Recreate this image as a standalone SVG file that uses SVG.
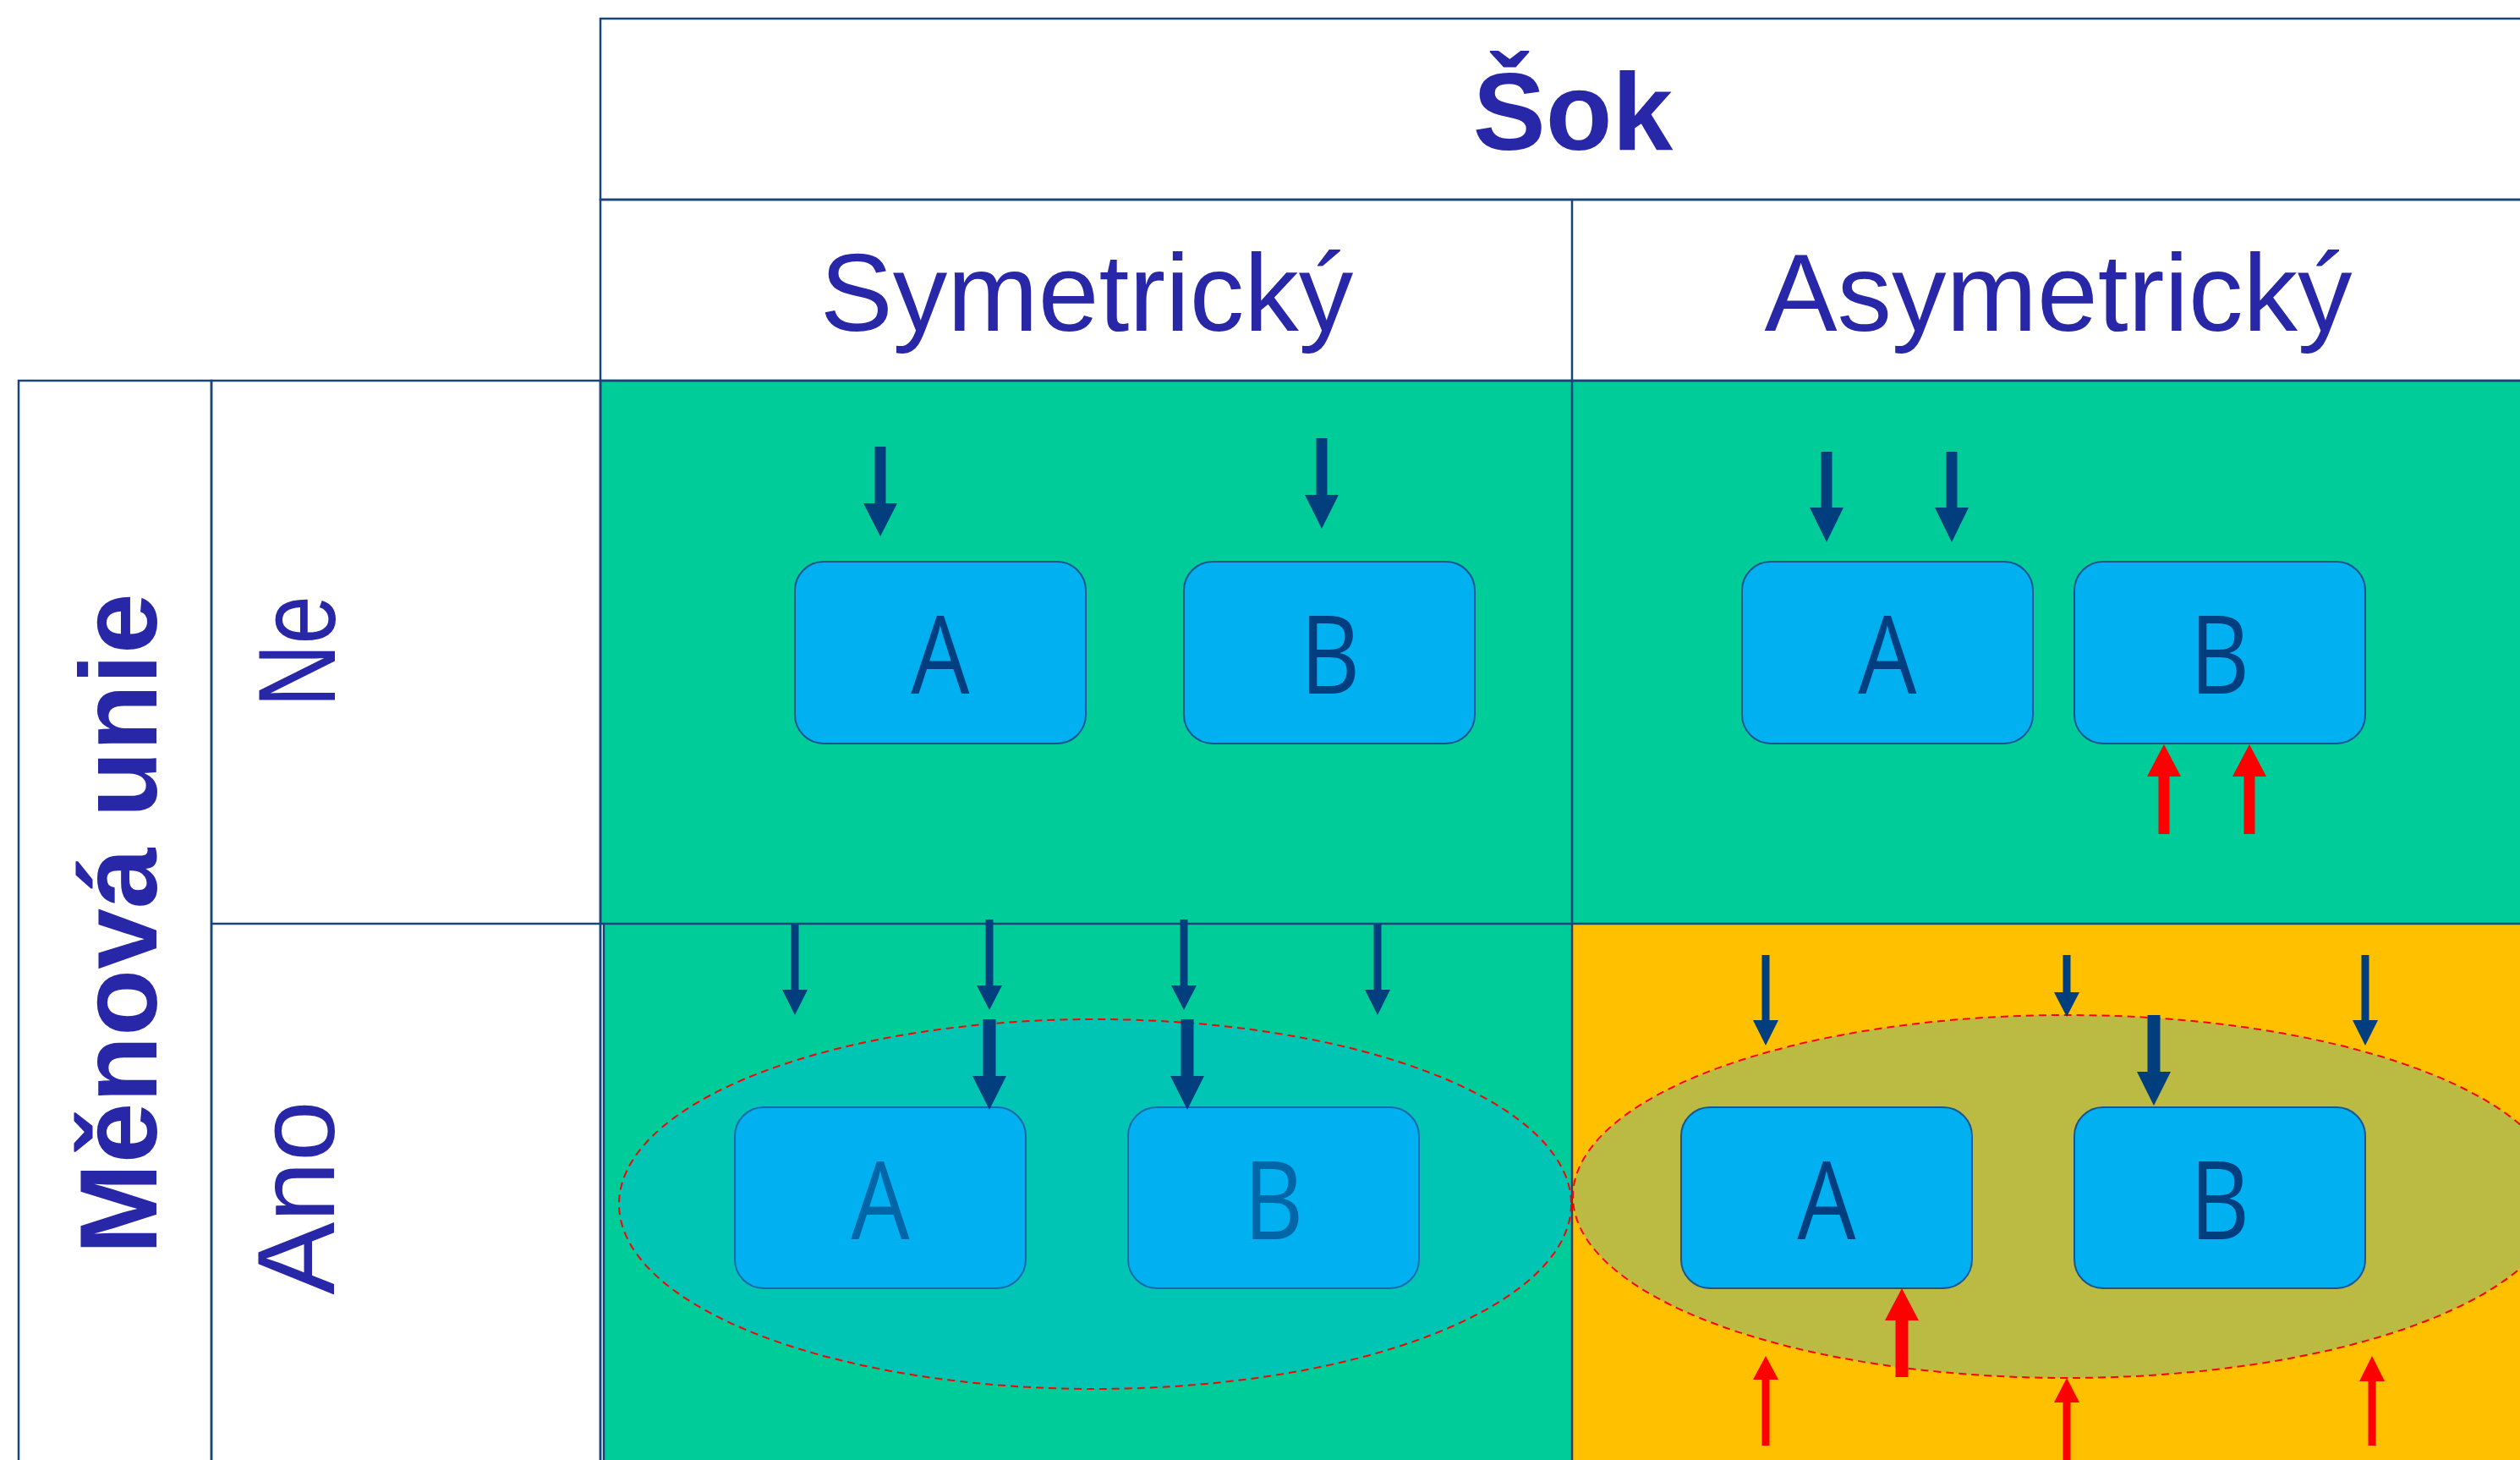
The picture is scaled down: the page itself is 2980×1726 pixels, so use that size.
<svg xmlns="http://www.w3.org/2000/svg" width="2980" height="1726" viewBox="0 0 2980 1726">
<style>
.hdr{font-family:"Liberation Sans",Arial,sans-serif;fill:#2727A7;font-size:129px;text-anchor:middle}
.bold{font-weight:bold}
.grid{fill:none;stroke:#17457A;stroke-width:2.5}
.box{fill:#00B0F0;stroke:#1A5590;stroke-width:2}
.box2{fill:#00B0F0;stroke:#1A6AAA;stroke-width:2}
.lbl{font-family:"Open Sans","Noto Sans",sans-serif;font-size:129px;fill:#003F7F;text-anchor:middle}
.lbl2{fill:#0066A8}
.dn{fill:#003E7E}
.up{fill:#FF0000}
.ell{stroke:#FF0000;stroke-width:2;stroke-dasharray:9 6}
</style>
<rect width="2980" height="1726" fill="#FFFFFF"/>
<g id="table">
  <rect x="710" y="450" width="1149" height="642" fill="#00CC99"/>
  <rect x="1859" y="450" width="1150" height="642" fill="#00CC99"/>
  <rect x="714" y="1092" width="1145" height="650" fill="#00CC99"/>
  <rect x="1859" y="1092" width="1150" height="650" fill="#FFC000"/>
  <rect class="grid" x="710" y="22" width="2300" height="214"/>
  <rect class="grid" x="710" y="236" width="2300" height="214"/>
  <line class="grid" x1="1859" y1="236" x2="1859" y2="1742"/>
  <rect class="grid" x="22" y="450" width="228" height="1292"/>
  <rect class="grid" x="250" y="450" width="460" height="1292"/>
  <line class="grid" x1="250" y1="1092" x2="3010" y2="1092"/>
  <line class="grid" x1="714" y1="1092" x2="714" y2="1742"/>
  <rect class="grid" x="710" y="450" width="2300" height="1292"/>
</g>
<g id="headers">
  <text class="hdr bold" x="1860" y="177">Šok</text>
  <text class="hdr" x="1285" y="391">Symetrický</text>
  <text class="hdr" x="2434" y="391">Asymetrický</text>
  <text class="hdr bold" font-size="130" transform="translate(185,1092) rotate(-90)">Měnová unie</text>
  <text class="hdr" transform="translate(396,770) rotate(-90)" textLength="132" lengthAdjust="spacingAndGlyphs">Ne</text>
  <text class="hdr" transform="translate(395,1416) rotate(-90)">Ano</text>
</g>
<g id="unions">
  <ellipse id="union-sym" class="ell" cx="1295" cy="1423.5" rx="563" ry="218.5" fill="#00C4B4"/>
  <ellipse id="union-asym" class="ell" cx="2444" cy="1414.5" rx="584" ry="214.5" fill="#BBBB44"/>
</g>
<g id="node-ne-sym-A"><rect class="box" x="940" y="664" width="344" height="215" rx="34"/><text class="lbl" transform="translate(1112,820) scale(0.85,1)">A</text></g>
<g id="node-ne-sym-B"><rect class="box" x="1400" y="664" width="344" height="215" rx="34"/><text class="lbl" transform="translate(1573,820) scale(0.85,1)">B</text></g>
<g id="node-ne-asym-A"><rect class="box" x="2060" y="664" width="344" height="215" rx="34"/><text class="lbl" transform="translate(2232,820) scale(0.85,1)">A</text></g>
<g id="node-ne-asym-B"><rect class="box" x="2453" y="664" width="344" height="215" rx="34"/><text class="lbl" transform="translate(2625,820) scale(0.85,1)">B</text></g>
<g id="node-ano-sym-A"><rect class="box2" x="869" y="1309" width="344" height="214" rx="34"/><text class="lbl lbl2" transform="translate(1041,1465) scale(0.85,1)">A</text></g>
<g id="node-ano-sym-B"><rect class="box2" x="1334" y="1309" width="344" height="214" rx="34"/><text class="lbl lbl2" transform="translate(1506,1465) scale(0.85,1)">B</text></g>
<g id="node-ano-asym-A"><rect class="box" x="1988" y="1309" width="344" height="214" rx="34"/><text class="lbl" transform="translate(2160,1465) scale(0.85,1)">A</text></g>
<g id="node-ano-asym-B"><rect class="box" x="2453" y="1309" width="344" height="214" rx="34"/><text class="lbl" transform="translate(2625,1465) scale(0.85,1)">B</text></g>
<g id="connectors">
  <path class="dn" d="M1034.5,528 H1047.5 V595 H1061 L1041,634 L1021,595 H1034.5 Z"/>
  <path class="dn" d="M1556.5,518 H1569.5 V585 H1583 L1563,625 L1543,585 H1556.5 Z"/>
  <path class="dn" d="M2153.5,534 H2166.5 V600 H2180 L2160,641 L2140,600 H2153.5 Z"/>
  <path class="dn" d="M2301.5,534 H2314.5 V600 H2328 L2308,641 L2288,600 H2301.5 Z"/>
  <path class="up" d="M2552.5,986 H2565.5 V918 H2579 L2559,880 L2539,918 H2552.5 Z"/>
  <path class="up" d="M2653.5,986 H2666.5 V918 H2680 L2660,880 L2640,918 H2653.5 Z"/>
  <path class="dn" d="M935.5,1092 H944.5 V1170 H955 L940,1200 L925,1170 H935.5 Z"/>
  <path class="dn" d="M1165.5,1087 H1174.5 V1165 H1185 L1170,1194 L1155,1165 H1165.5 Z"/>
  <path class="dn" d="M1395.5,1087 H1404.5 V1165 H1415 L1400,1194 L1385,1165 H1395.5 Z"/>
  <path class="dn" d="M1624.5,1092 H1633.5 V1170 H1644 L1629,1200 L1614,1170 H1624.5 Z"/>
  <path class="dn" d="M1162.5,1205 H1177.5 V1272 H1190 L1170,1312 L1150,1272 H1162.5 Z"/>
  <path class="dn" d="M1396.5,1205 H1411.5 V1272 H1424 L1404,1312 L1384,1272 H1396.5 Z"/>
  <path class="dn" d="M2083.5,1129 H2092.5 V1206 H2103 L2088,1236 L2073,1206 H2083.5 Z"/>
  <path class="dn" d="M2439.5,1129 H2448.5 V1173 H2459 L2444,1202 L2429,1173 H2439.5 Z"/>
  <path class="dn" d="M2792.5,1129 H2801.5 V1206 H2812 L2797,1236 L2782,1206 H2792.5 Z"/>
  <path class="dn" d="M2539.5,1200 H2554.5 V1267 H2567 L2547,1307 L2527,1267 H2539.5 Z"/>
  <path class="up" d="M2241.5,1628 H2256.5 V1561 H2269 L2249,1523 L2229,1561 H2241.5 Z"/>
  <path class="up" d="M2083.5,1709 H2092.5 V1631 H2103 L2088,1603 L2073,1631 H2083.5 Z"/>
  <path class="up" d="M2439.5,1730 H2448.5 V1658 H2459 L2444,1629 L2429,1658 H2439.5 Z"/>
  <path class="up" d="M2800.5,1709 H2809.5 V1633 H2820 L2805,1603 L2790,1633 H2800.5 Z"/>
</g>
</svg>
